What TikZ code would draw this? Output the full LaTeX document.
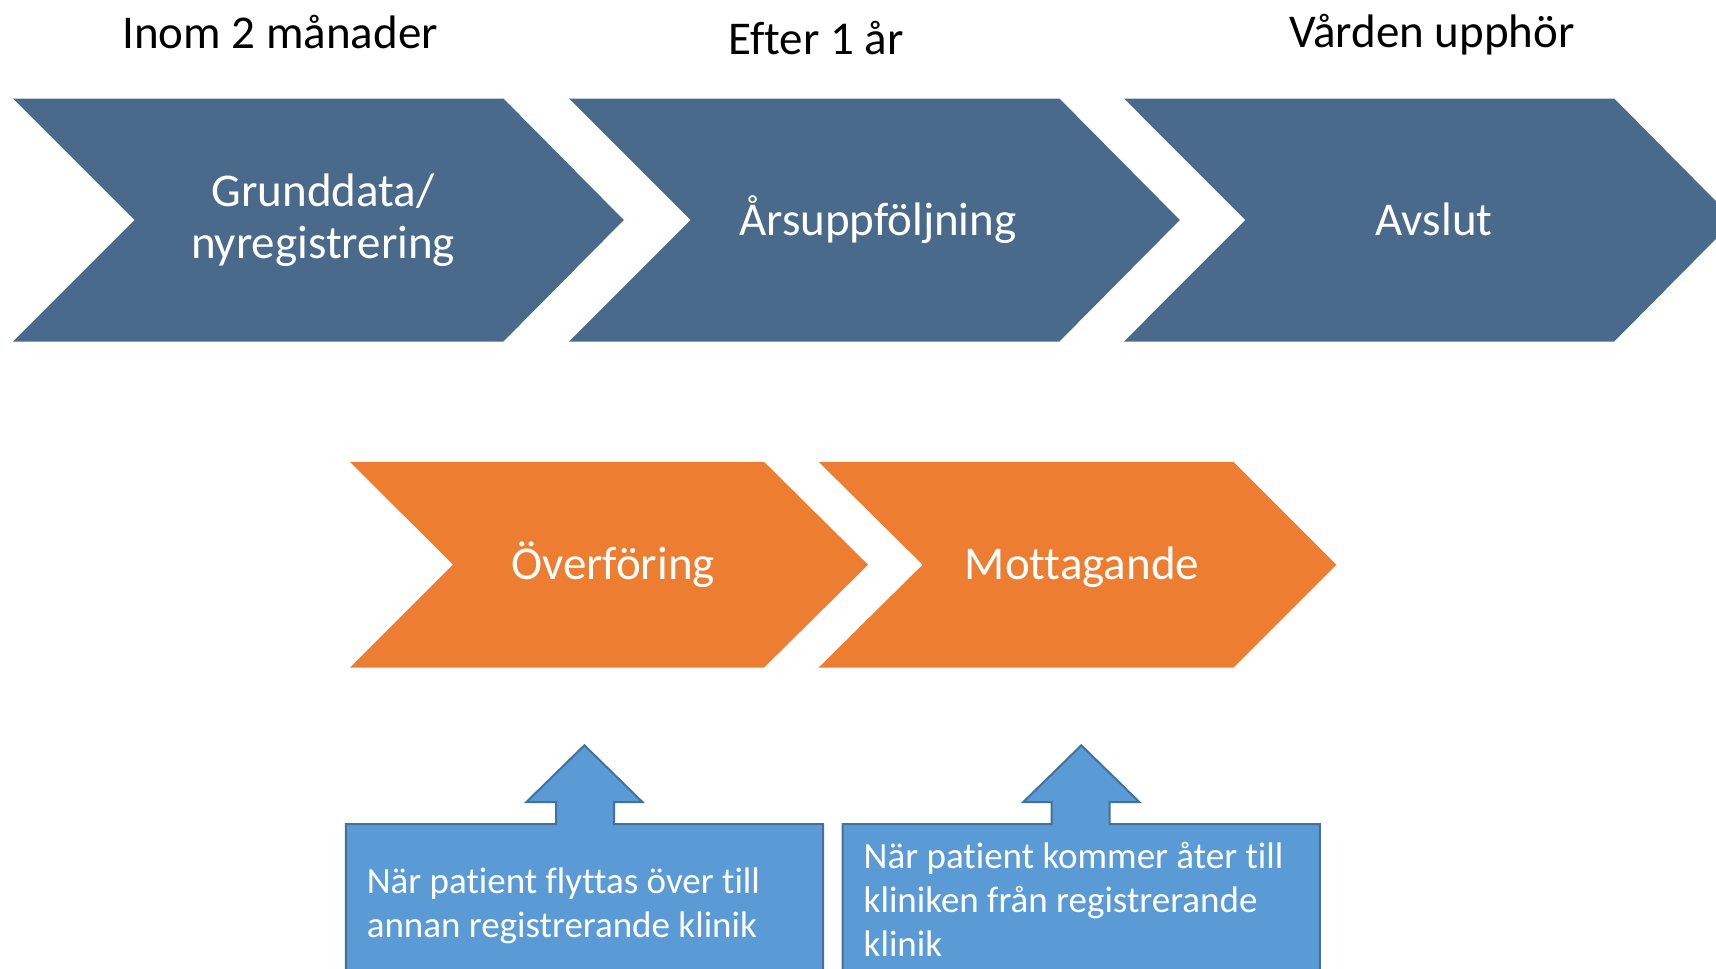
\documentclass[tikz,border=0pt]{standalone}
\usepackage{fontspec}
\setmainfont{Carlito}[Ligatures=NoCommon]
\definecolor{chevblue}{HTML}{4A6A8C}
\definecolor{chevorange}{HTML}{ED7D31}
\definecolor{callfill}{HTML}{5B9BD5}
\definecolor{callline}{HTML}{41719C}
\tikzset{
  bluechev/.style={fill=chevblue},
  orangechev/.style={fill=chevorange},
  callout/.style={fill=callfill, draw=callline, line width=2pt},
  headtext/.style={font=\fontsize{47}{56}\selectfont, text=black, inner sep=0pt},
  chevtext/.style={font=\fontsize{47}{52}\selectfont, text=white, align=center, inner sep=0pt, anchor=base},
  calltext/.style={font=\fontsize{37}{44}\selectfont, text=white, align=left, inner sep=0pt},
}
\begin{document}
\begin{tikzpicture}[x=1pt,y=-1pt]
\useasboundingbox (0,0) rectangle (1716,969);
\clip (0,0) rectangle (1716,969);
% top chevrons
\fill[bluechev] (13,98.5) -- (503.4,98.5) -- (623.8,220) -- (503.4,341.5) -- (13,341.5) -- (134.6,220) -- cycle;
\fill[bluechev] (569,98.5) -- (1059.4,98.5) -- (1179.8,220) -- (1059.4,341.5) -- (569,341.5) -- (690.6,220) -- cycle;
\fill[bluechev] (1124,98.5) -- (1614.2,98.5) -- (1734.6,220) -- (1614.2,341.5) -- (1124,341.5) -- (1245.4,220) -- cycle;
% orange chevrons
\fill[orangechev] (350,461.8) -- (764,461.8) -- (868,564.7) -- (764,667.6) -- (350,667.6) -- (453,564.7) -- cycle;
\fill[orangechev] (818.6,461.8) -- (1233.4,461.8) -- (1336.3,564.7) -- (1233.4,667.6) -- (818.6,667.6) -- (922.6,564.7) -- cycle;
% callouts
\draw[callout] (345.8,1000) -- (345.8,824) -- (556,824) -- (556,802) -- (526.4,802) -- (584.4,745.3) -- (642.4,802) -- (614,802) -- (614,824) -- (823,824) -- (823,1000) -- cycle;
\draw[callout] (842.7,1000) -- (842.7,824) -- (1051.7,824) -- (1051.7,802) -- (1023.3,802) -- (1081.3,745.3) -- (1139.3,802) -- (1109.6,802) -- (1109.6,824) -- (1319.9,824) -- (1319.9,1000) -- cycle;
% header texts
\node[headtext, anchor=base] (h1) at (280,48) {Inom 2 månader};
\node[headtext, anchor=base] (h2) at (816,54) {Efter 1 år};
\node[headtext, anchor=base] (h3) at (1432,47) {Vården upphör};
% chevron texts (base anchor = baseline of last line)
\node[chevtext] (c1) at (323,258.3) {Grunddata/\\nyregistrering};
\node[chevtext] (c2) at (878,235) {Årsuppföljning};
\node[chevtext] (c3) at (1434,235) {Avslut};
\node[chevtext] (o1) at (613,579.3) {Överföring};
\node[chevtext] (o2) at (1082,579.3) {Mottagande};
% callout texts
\node[calltext, anchor=base west] (t1) at (366.6,937) {När patient flyttas över till\\annan registrerande klinik};
\node[calltext, anchor=base west] (t2) at (863.5,956) {När patient kommer åter till\\kliniken från registrerande\\klinik};
\end{tikzpicture}
\end{document}
